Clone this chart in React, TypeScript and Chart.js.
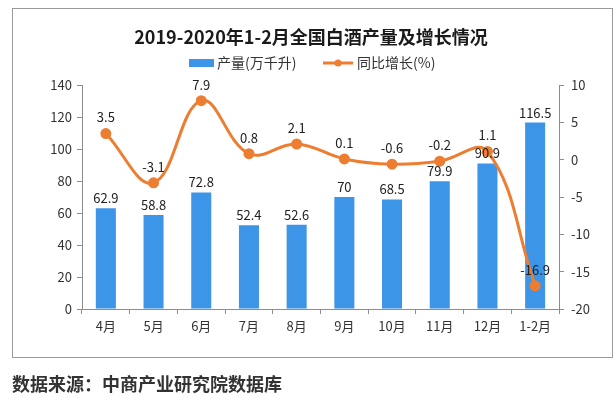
import React, { useEffect, useRef } from "react";
import { Chart, registerables } from "chart.js";

Chart.register(...registerables);

const categories = ["4月", "5月", "6月", "7月", "8月", "9月", "10月", "11月", "12月", "1-2月"];
const production = [62.9, 58.8, 72.8, 52.4, 52.6, 70, 68.5, 79.9, 90.9, 116.5];
const growth = [3.5, -3.1, 7.9, 0.8, 2.1, 0.1, -0.6, -0.2, 1.1, -16.9];
const titleText = "2019-2020年1-2月全国白酒产量及增长情况";
const legendBar = "产量(万千升)";
const legendLine = "同比增长(%)";
const sourceText = "数据来源：中商产业研究院数据库";

const BLUE = "#3C95E6";
const ORANGE = "#ED7D31";
const FONT = "'Noto Sans CJK SC', 'DejaVu Sans', sans-serif";

const decorPlugin = {
  id: "decor",
  beforeDraw(chart: any) {
    const ctx = chart.ctx;
    ctx.save();
    ctx.fillStyle = "#ffffff";
    ctx.fillRect(0, 0, chart.width, chart.height);
    ctx.strokeStyle = "#9a9a9a";
    ctx.lineWidth = 1;
    ctx.strokeRect(12.5, 8.5, 600, 349);
    ctx.restore();
  },
  afterDraw(chart: any) {
    const ctx = chart.ctx;
    ctx.save();
    ctx.fillStyle = "#1a1a1a";
    ctx.font = `bold 18px ${FONT}`;
    ctx.textAlign = "center";
    ctx.textBaseline = "middle";
    ctx.fillText(titleText, 311, 37);
    ctx.font = `14px ${FONT}`;
    ctx.textAlign = "left";
    ctx.fillStyle = BLUE;
    ctx.fillRect(189, 59, 25, 8);
    ctx.fillStyle = "#333";
    ctx.fillText(legendBar, 217, 63);
    ctx.strokeStyle = ORANGE;
    ctx.lineWidth = 3;
    ctx.beginPath();
    ctx.moveTo(323, 63);
    ctx.lineTo(353, 63);
    ctx.stroke();
    ctx.fillStyle = ORANGE;
    ctx.beginPath();
    ctx.arc(338, 63, 3.5, 0, Math.PI * 2);
    ctx.fill();
    ctx.fillStyle = "#333";
    ctx.fillText(legendLine, 357, 63);
    ctx.restore();
  },
  afterDatasetsDraw(chart: any) {
    const ctx = chart.ctx;
    ctx.save();
    ctx.font = `13px ${FONT}`;
    ctx.fillStyle = "#222";
    ctx.textAlign = "center";
    ctx.textBaseline = "middle";
    const barMeta = chart.getDatasetMeta(0);
    barMeta.data.forEach((el: any, i: number) => {
      ctx.fillText(String(production[i]), el.x, el.y - 10);
    });
    const lineMeta = chart.getDatasetMeta(1);
    lineMeta.data.forEach((el: any, i: number) => {
      ctx.fillText(String(growth[i]), el.x, el.y - 16);
    });
    ctx.restore();
  },
};

export default function App() {
  const ref = useRef<HTMLCanvasElement>(null);
  useEffect(() => {
    if (!ref.current) return;
    const axisColor = "#8c8c8c";
    const tickFont = { family: FONT, size: 13 };
    const chart = new Chart(ref.current, {
      type: "bar",
      data: {
        labels: categories,
        datasets: [
          {
            type: "bar",
            label: legendBar,
            data: production,
            backgroundColor: BLUE,
            yAxisID: "y",
            barPercentage: 0.42,
            categoryPercentage: 1,
            order: 1,
          },
          {
            type: "line",
            label: legendLine,
            data: growth,
            borderColor: ORANGE,
            backgroundColor: ORANGE,
            borderWidth: 3,
            pointRadius: 4,
            pointBackgroundColor: ORANGE,
            pointBorderColor: ORANGE,
            tension: 0.4,
            yAxisID: "y1",
            order: 0,
          } as any,
        ],
      },
      options: {
        responsive: false,
        animation: false,
        devicePixelRatio: 1,
        layout: { padding: { left: 0, right: 0, top: 85, bottom: 0 } },
        plugins: { legend: { display: false }, title: { display: false }, tooltip: { enabled: false } },
        scales: {
          x: {
            offset: true,
            grid: { offset: true, drawOnChartArea: false, tickLength: 5, color: axisColor },
            border: { color: axisColor },
            ticks: { font: tickFont, color: "#333", padding: 4, maxRotation: 0, autoSkip: false },
            afterFit(s: any) { s.height = 89; },
          },
          y: {
            position: "left",
            min: 0,
            max: 140,
            ticks: { stepSize: 20, font: tickFont, color: "#333", padding: 5 },
            grid: { drawOnChartArea: false, tickLength: 5, color: axisColor },
            border: { color: axisColor },
            afterFit(s: any) { s.width = 82; },
          },
          y1: {
            position: "right",
            min: -20,
            max: 10,
            ticks: { stepSize: 5, font: tickFont, color: "#333", padding: 7 },
            grid: { drawOnChartArea: false, tickLength: 5, color: axisColor },
            border: { color: axisColor },
            afterFit(s: any) { s.width = 56; },
          },
        },
      },
      plugins: [decorPlugin],
    });
    return () => chart.destroy();
  }, []);
  return (
    <div style={{ position: "fixed", left: 0, top: 0, width: 615, height: 398, background: "#fff" }}>
      <canvas ref={ref} width={615} height={398} style={{ display: "block" }} />
      <div
        style={{
          position: "absolute",
          left: 12,
          top: 371,
          fontFamily: FONT,
          fontWeight: "bold",
          fontSize: 18,
          color: "#333",
          lineHeight: "24px",
          whiteSpace: "nowrap",
        }}
      >
        {sourceText}
      </div>
    </div>
  );
}
